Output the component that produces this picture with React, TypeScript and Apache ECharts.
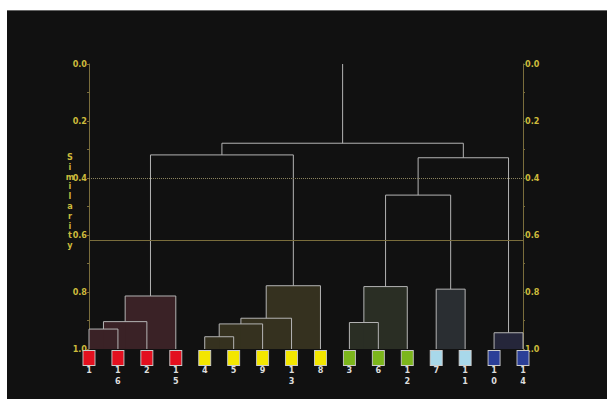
import React, { useEffect, useRef } from "react";
import * as echarts from "echarts";

const leaves = ["1", "16", "2", "15", "4", "5", "9", "13", "8", "3", "6", "12", "7", "11", "10", "14"];
const leafGroup = [0, 0, 0, 0, 1, 1, 1, 1, 1, 2, 2, 2, 3, 3, 4, 4];
const groupColors = ["#e3101f", "#f3e600", "#7cb61c", "#a8d8ea", "#2b3f98"];
const groupFills = ["#3a2226", "#35311f", "#2a2e24", "#2a2e32", "#25263a"];
// linkage: node ids 0..15 are leaves, 16.. are merges in order
const mergeLeft = [0, 16, 17, 4, 19, 20, 21, 9, 23, 12, 14, 18, 24, 28, 27];
const mergeRight = [1, 2, 3, 5, 6, 7, 8, 10, 11, 13, 15, 22, 25, 26, 29];
const mergeHeight = [0.93, 0.904, 0.814, 0.957, 0.912, 0.892, 0.778, 0.907, 0.781, 0.79, 0.943, 0.319, 0.46, 0.329, 0.278];
const cutLevel = 0.62;
const refLevel = 0.4;
const rootTop = 0.0;

const AXIS_YELLOW = "#cdbb3c";
const AXIS_LINE = "#7a6d3c";
const FONT = "'Liberation Sans Narrow', 'DejaVu Sans Condensed', sans-serif";

function buildLinks() {
  const n = leaves.length;
  const xs: number[] = leaves.map((_, i) => i);
  const hs: number[] = leaves.map(() => 1);
  const grp: number[] = leafGroup.slice();
  const links: number[][] = [];
  mergeLeft.forEach((l, k) => {
    const r = mergeRight[k];
    const h = mergeHeight[k];
    const id = n + k;
    xs[id] = (xs[l] + xs[r]) / 2;
    hs[id] = h;
    grp[id] = grp[l];
    const g = h > cutLevel ? grp[l] : -1;
    links.push([xs[l], xs[r], h, hs[l], hs[r], g]);
  });
  const rootId = n + mergeLeft.length - 1;
  return { links, rootX: xs[rootId], rootH: hs[rootId] };
}

export default function App() {
  const ref = useRef<HTMLDivElement>(null);
  useEffect(() => {
    if (!ref.current) return;
    const chart = echarts.init(ref.current, null, { renderer: "svg" });
    const { links, rootX, rootH } = buildLinks();
    const fills = links.filter((l) => l[5] >= 0);
    const leafData = leaves.map((_, i) => ({
      value: [i, 1],
      itemStyle: { color: groupColors[leafGroup[i]] },
    }));
    const yAxisBase = {
      type: "value",
      min: 0,
      max: 1,
      interval: 0.2,
      inverse: true,
      axisLine: { show: true, lineStyle: { color: AXIS_LINE, width: 1 } },
      axisTick: { show: true, length: 2, lineStyle: { color: AXIS_LINE } },
      minorTick: { show: true, splitNumber: 2, length: 2, lineStyle: { color: AXIS_LINE } },
      splitLine: { show: false },
      axisLabel: {
        color: AXIS_YELLOW,
        fontSize: 9,
        fontWeight: "bold",
        fontFamily: FONT,
        margin: 2,
        formatter: (v: number) => v.toFixed(1),
      },
    };
    chart.setOption({
      animation: false,
      backgroundColor: "#111111",
      grid: { left: 82, right: 84, top: 54, bottom: 50 },
      xAxis: {
        type: "value",
        min: 0,
        max: leaves.length - 1,
        interval: 1,
        axisLine: { show: false },
        axisTick: { show: false },
        splitLine: { show: false },
        axisLabel: {
          color: "#dddddd",
          fontSize: 9,
          fontWeight: "bold",
          fontFamily: FONT,
          lineHeight: 11,
          margin: 15,
          verticalAlign: "top",
          formatter: (v: number) => (leaves[v] || "").split("").join("\n"),
        },
      },
      yAxis: [
        { ...yAxisBase, position: "left" },
        { ...yAxisBase, position: "right" },
      ],
      graphic: [
        {
          type: "line",
          shape: { x1: 0, y1: 0.5, x2: 600, y2: 0.5 },
          style: { stroke: "#666", lineWidth: 1 },
        },
        {
          type: "text",
          x: 63,
          y: 191,
          style: {
            text: "Similarity".split("").join("\n"),
            fill: AXIS_YELLOW,
            fontSize: 9,
            fontWeight: "bold",
            fontFamily: FONT,
            lineHeight: 9.8,
            align: "center",
            verticalAlign: "middle",
          },
        },
      ],
      series: [
        {
          type: "custom",
          z: 1,
          data: fills,
          renderItem: (params: any, api: any) => {
            const p1 = api.coord([api.value(0), api.value(2)]);
            const p2 = api.coord([api.value(1), 1]);
            const g = api.value(5);
            return {
              type: "rect",
              shape: { x: p1[0], y: p1[1], width: p2[0] - p1[0], height: p2[1] - p1[1] },
              style: { fill: groupFills[g] },
            };
          },
        },
        {
          type: "custom",
          z: 2,
          data: links,
          renderItem: (params: any, api: any) => {
            const lx = api.value(0);
            const rx = api.value(1);
            const h = api.value(2);
            const pts = [
              api.coord([lx, api.value(3)]),
              api.coord([lx, h]),
              api.coord([rx, h]),
              api.coord([rx, api.value(4)]),
            ];
            return {
              type: "polyline",
              shape: { points: pts },
              style: { stroke: "#b4b4b4", lineWidth: 1, fill: "none" },
            };
          },
          markLine: {
            silent: true,
            symbol: "none",
            label: { show: false },
            data: [
              { yAxis: refLevel, lineStyle: { type: "dotted", color: "#8c8560", width: 1 } },
              { yAxis: cutLevel, lineStyle: { type: "solid", color: "#7a6d3c", width: 1 } },
            ],
          },
        },
        {
          type: "line",
          z: 2,
          data: [
            [rootX, rootH],
            [rootX, rootTop],
          ],
          symbol: "none",
          lineStyle: { color: "#b4b4b4", width: 1 },
        },
        {
          type: "scatter",
          z: 3,
          clip: false,
          data: leafData,
          symbol: "rect",
          symbolSize: [12, 15],
          symbolOffset: [0, 9],
          itemStyle: { borderColor: "#cccccc", borderWidth: 1, opacity: 1 },
        },
      ],
    });
    return () => chart.dispose();
  }, []);
  return (
    <div
      ref={ref}
      style={{ position: "absolute", left: 7, top: 10, width: 600, height: 389 }}
    />
  );
}
